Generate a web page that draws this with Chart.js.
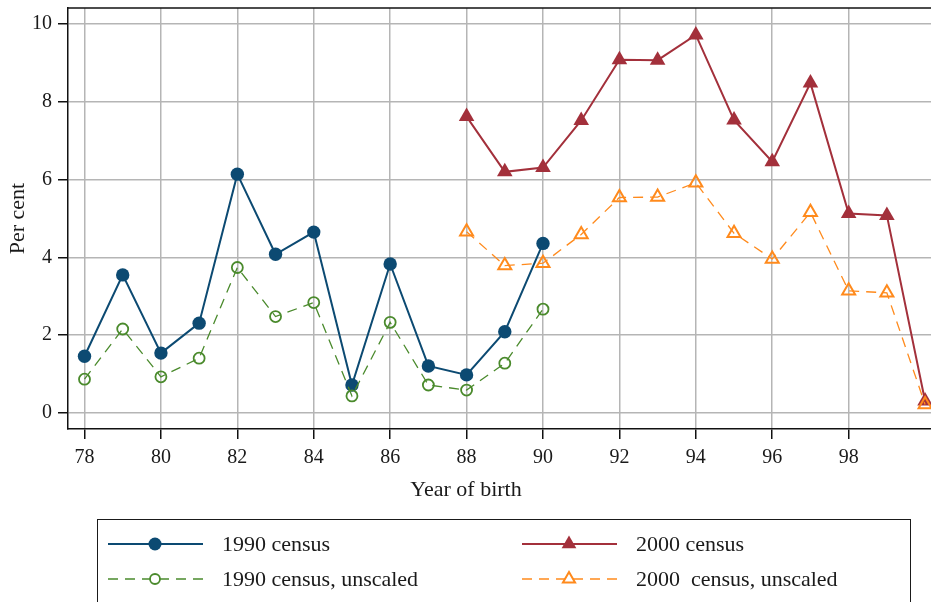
<!DOCTYPE html>
<html>
<head>
<meta charset="utf-8">
<script src="https://cdn.jsdelivr.net/npm/chart.js@4.4.1/dist/chart.umd.min.js"></script>
<style>
  html, body { margin: 0; padding: 0; background: #fff; overflow: hidden; }
  #wrap { position: relative; width: 931px; height: 602px; overflow: hidden; }
  #c { position: absolute; left: 0; top: 0; }
  #legend { position: absolute; left: 97px; top: 519px; width: 814px; height: 110px;
            border: 1.5px solid #1a1a1a; box-sizing: border-box; font-family: "Liberation Serif", "Times New Roman", serif;
            font-size: 22px; color: #1a1a1a; }
  .item { position: absolute; height: 24px; white-space: pre; }
  .item svg { position: absolute; left: 0; top: 0; }
  .item span { position: absolute; top: 0; line-height: 24px; }
</style>
</head>
<body>
<div id="wrap">
  <canvas id="c" width="931" height="602"></canvas>
  <div id="legend"></div>
</div>
<script>
// ---- data ----
const years1990 = [78, 79, 80, 81, 82, 83, 84, 85, 86, 87, 88, 89, 90];
const census1990 = [1.46, 3.55, 1.54, 2.31, 6.14, 4.08, 4.65, 0.72, 3.83, 1.21, 0.98, 2.09, 4.36];
const census1990Unscaled = [0.87, 2.16, 0.93, 1.41, 3.74, 2.48, 2.84, 0.44, 2.33, 0.72, 0.59, 1.28, 2.67];
const years2000 = [88, 89, 90, 91, 92, 93, 94, 95, 96, 97, 98, 99, 100];
const census2000 = [7.62, 6.20, 6.31, 7.52, 9.08, 9.07, 9.72, 7.53, 6.46, 8.48, 5.13, 5.08, 0.31];
const census2000Unscaled = [4.66, 3.79, 3.85, 4.59, 5.54, 5.55, 5.92, 4.62, 3.96, 5.16, 3.14, 3.09, 0.22];
const xTickValues = [78, 80, 82, 84, 86, 88, 90, 92, 94, 96, 98];
const yTickValues = [0, 2, 4, 6, 8, 10];
const seriesNames = ["1990 census", "2000 census", "1990 census, unscaled", "2000  census, unscaled"];
const xTitle = 'Year of birth';
const yTitle = 'Per cent';

const BLUE = '#0c4a72', RED = '#a3303b', GREEN = '#4a8a2c', ORANGE = '#ff8a1c';
const FONT = '"Liberation Serif", "Times New Roman", serif';
const TXT = '#1a1a1a';

const pts = (xs, ys) => xs.map((x, i) => ({ x: x, y: ys[i] }));

const framePlugin = {
  id: 'frame',
  afterDraw(chart) {
    const { ctx, chartArea: a } = chart;
    ctx.save();
    // top edge of the plot frame
    ctx.strokeStyle = '#111';
    ctx.lineWidth = 1.5;
    ctx.beginPath();
    ctx.moveTo(a.left, a.top);
    ctx.lineTo(a.right, a.top);
    ctx.stroke();
    // x-axis title (centred left of the plot centre, as in the original)
    ctx.fillStyle = TXT;
    ctx.font = '22px ' + FONT;
    ctx.textAlign = 'center';
    ctx.textBaseline = 'middle';
    ctx.fillText(xTitle, 466, 490);
    ctx.restore();
  }
};

new Chart(document.getElementById('c'), {
  type: 'line',
  data: {
    datasets: [
      { label: seriesNames[0], data: pts(years1990, census1990), borderColor: BLUE, backgroundColor: BLUE,
        borderWidth: 2, pointRadius: 6.7, pointStyle: 'circle', pointBorderWidth: 0, pointBackgroundColor: BLUE, order: 4 },
      { label: seriesNames[1], data: pts(years2000, census2000), borderColor: RED, backgroundColor: RED,
        borderWidth: 2, pointRadius: 9, pointStyle: 'triangle', pointBorderWidth: 0, pointBackgroundColor: RED, order: 3 },
      { label: seriesNames[2], data: pts(years1990, census1990Unscaled), borderColor: GREEN, backgroundColor: 'rgba(0,0,0,0)',
        borderWidth: 1.3, borderDash: [10, 7], pointRadius: 5.5, pointStyle: 'circle', pointBorderWidth: 1.8,
        pointBorderColor: GREEN, pointBackgroundColor: 'rgba(0,0,0,0)', order: 2 },
      { label: seriesNames[3], data: pts(years2000, census2000Unscaled), borderColor: ORANGE, backgroundColor: 'rgba(0,0,0,0)',
        borderWidth: 1.3, borderDash: [10, 7], pointRadius: 7.5, pointStyle: 'triangle', pointBorderWidth: 2,
        pointBorderColor: ORANGE, pointBackgroundColor: 'rgba(0,0,0,0)', order: 1 }
    ]
  },
  options: {
    responsive: false,
    animation: false,
    layout: { autoPadding: false, padding: { left: 0, right: 0, top: 8, bottom: 100 } },
    plugins: { legend: { display: false }, tooltip: { enabled: false } },
    elements: { line: { tension: 0, fill: false } },
    scales: {
      x: {
        type: 'linear', min: 77.568, max: 100.155,
        afterBuildTicks: s => { s.ticks = xTickValues.map(v => ({ value: v })); },
        afterFit: s => { s.height = 73; s.paddingLeft = 0; s.paddingRight = 0; },
        grid: { color: '#b5b5b5', lineWidth: 1.5, tickColor: '#111', tickLength: 10, drawTicks: true },
        border: { display: true, color: '#111', width: 1.5 },
        ticks: { color: TXT, font: { family: FONT, size: 20 }, padding: 7, maxRotation: 0, autoSkip: false },
        title: { display: false, text: xTitle }
      },
      y: {
        type: 'linear', min: -0.411, max: 10.411,
        afterBuildTicks: s => { s.ticks = yTickValues.map(v => ({ value: v })); },
        afterFit: s => { s.width = 68; s.paddingTop = 0; s.paddingBottom = 0; },
        grid: { color: '#b5b5b5', lineWidth: 1.5, tickColor: '#111', tickLength: 10, drawTicks: true },
        border: { display: true, color: '#111', width: 1.5 },
        ticks: { color: TXT, font: { family: FONT, size: 20 }, padding: 6 },
        title: { display: true, text: yTitle, color: TXT, font: { family: FONT, size: 22 }, padding: { top: 5, bottom: 0 } }
      }
    }
  },
  plugins: [framePlugin]
});

// ---- HTML legend ----
const legendDefs = [
  { name: seriesNames[0], color: BLUE, dash: '', lw: 2, marker: 'circleFill', left: 10, top: 12 },
  { name: seriesNames[1], color: RED, dash: '', lw: 2, marker: 'triFill', left: 424, top: 12 },
  { name: seriesNames[2], color: GREEN, dash: '10 7', lw: 1.3, marker: 'circleOpen', left: 10, top: 47 },
  { name: seriesNames[3], color: ORANGE, dash: '10 7', lw: 1.3, marker: 'triOpen', left: 424, top: 47 }
];
function markerSvg(kind, c) {
  const cx = 47, cy = 12;
  if (kind === 'circleFill') return `<circle cx="${cx}" cy="${cy}" r="6.5" fill="${c}"/>`;
  if (kind === 'circleOpen') return `<circle cx="${cx}" cy="${cy}" r="5" fill="#fff" stroke="${c}" stroke-width="1.8"/>`;
  const r = kind === 'triFill' ? 8.5 : 7;
  const p = [0, 1, 2].map(k => { const a = k * 2 * Math.PI / 3; return (cx + Math.sin(a) * r).toFixed(2) + ',' + (cy - Math.cos(a) * r).toFixed(2); }).join(' ');
  if (kind === 'triFill') return `<polygon points="${p}" fill="${c}"/>`;
  return `<polygon points="${p}" fill="#fff" stroke="${c}" stroke-width="2"/>`;
}
const lg = document.getElementById('legend');
legendDefs.forEach(d => {
  const div = document.createElement('div');
  div.className = 'item';
  div.style.left = d.left + 'px';
  div.style.top = d.top + 'px';
  div.style.width = '380px';
  div.innerHTML = `<svg width="100" height="24"><line x1="0" y1="12" x2="95" y2="12" stroke="${d.color}" stroke-width="${d.lw}" ${d.dash ? `stroke-dasharray="${d.dash}"` : ''}/>${markerSvg(d.marker, d.color)}</svg><span style="left:114px">${d.name}</span>`;
  lg.appendChild(div);
});
</script>
</body>
</html>
